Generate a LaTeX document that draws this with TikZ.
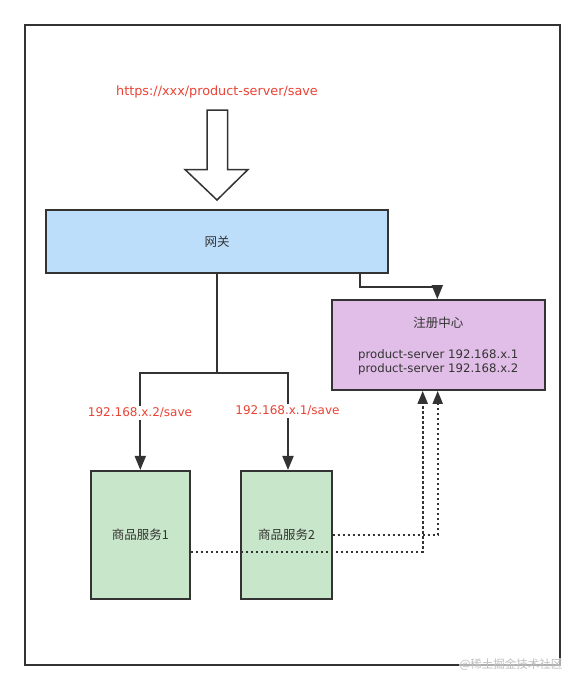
\documentclass[tikz,border=0pt]{standalone}
\usepackage{fontspec}
\setmainfont{DejaVu Sans}
\newfontfamily\cjk{Noto Sans CJK SC}
\usetikzlibrary{arrows.meta}
\definecolor{edge}{RGB}{51,51,51}
\definecolor{redtxt}{RGB}{234,67,53}
\definecolor{gwfill}{RGB}{189,222,251}
\definecolor{regfill}{RGB}{225,190,231}
\definecolor{svcfill}{RGB}{200,230,201}
\tikzset{
  box/.style={draw=edge,line width=1.8pt,inner sep=0pt,text=edge,font=\cjk\fontsize{12.5}{15}\selectfont},
  conn/.style={draw=edge,line width=1.9pt,-{Triangle[width=11pt,length=14pt]}},
  dotconn/.style={draw=edge,line width=2.1pt,dash pattern=on 2.6pt off 2.4pt,-{Triangle[width=10pt,length=13pt]}},
  redlabel/.style={text=redtxt,font=\fontsize{12}{14}\selectfont,fill=white,inner sep=1.5pt}
}
\begin{document}
\begin{tikzpicture}[x=1pt,y=-1pt]
\useasboundingbox[fill=white] (0,0) rectangle (585,691);
% outer frame
\draw[edge,line width=2pt] (25,25) rectangle (560,665);
% url
\node[redlabel,font=\fontsize{12.8}{15}\selectfont] (url) at (217,92) {https://xxx/product-server/save};
% block arrow
\draw[edge,line width=1.5pt,fill=white,line join=miter]
  (207,110) -- (227.5,110) -- (227.5,169.5) -- (248,169.5) -- (217,200) -- (185,169.5) -- (207,169.5) -- cycle;
% boxes
\node[box,fill=gwfill,minimum width=342.6pt,minimum height=62.7pt] (gw) at (217,241.3) {网关};
\node[box,fill=regfill,minimum width=213.3pt,minimum height=90pt] (reg) at (438.3,345) {};
\node[text=edge,font=\cjk\fontsize{12.5}{15}\selectfont] (regt) at (438.3,322.7) {注册中心};
\node[text=edge,font=\fontsize{11.7}{14}\selectfont,align=center,inner sep=0pt] (regl) at (438.3,362.5) {product-server 192.168.x.1\\[0.5pt]product-server 192.168.x.2};
\node[box,fill=svcfill,minimum width=99.3pt,minimum height=128.3pt] (s1) at (140.3,535) {商品服务1};
\node[box,fill=svcfill,minimum width=90.4pt,minimum height=128.3pt] (s2) at (286.5,535) {商品服务2};
% connectors
\coordinate (j) at (217,372.7);
\draw[edge,line width=1.9pt] (gw.south) -- (j);
\draw[conn] (j) -| (s1.north);
\draw[conn] (j) -| ([xshift=1.5pt]s2.north);
\draw[conn] ([xshift=-29pt]gw.south east) -- ++(0,13.3) -| ([xshift=-1pt]reg.north);
\draw[dotconn] (s2.east) -| ([xshift=-0.6pt]reg.south);
\draw[dotconn] ([yshift=-16.7pt]s1.east) -| ([xshift=-15.6pt]reg.south);
% labels
\node[redlabel] (l1) at (140,413) {192.168.x.2/save};
\node[redlabel] (l2) at (287.5,411) {192.168.x.1/save};
% watermark
\node[text=black!25,fill=white,fill opacity=0.6,text opacity=1,font=\cjk\fontsize{11.5}{13}\selectfont,inner sep=1pt] (wm) at (511,665) {@稀土掘金技术社区};
\end{tikzpicture}
\end{document}
